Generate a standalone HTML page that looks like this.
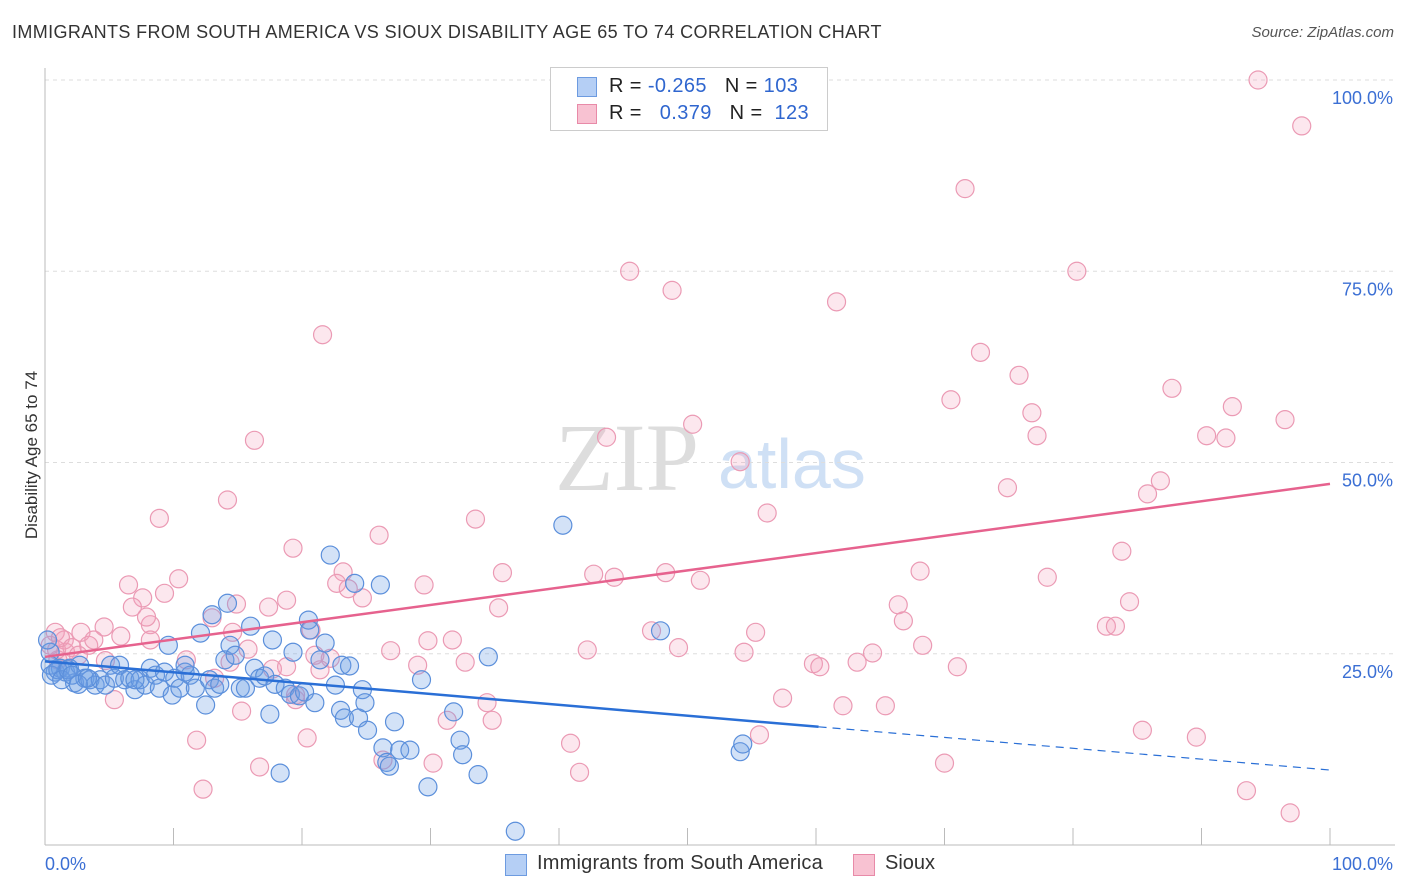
<!DOCTYPE html>
<html><head><meta charset="utf-8">
<style>
body{margin:0;background:#fff;font-family:"Liberation Sans",sans-serif;}
#wrap{position:relative;width:1406px;height:892px;overflow:hidden;}
.t{position:absolute;white-space:nowrap;}
</style></head>
<body>
<div id="wrap">
<div class="t" style="left:12px;top:22px;font-size:18px;letter-spacing:0.38px;color:#333;">IMMIGRANTS FROM SOUTH AMERICA VS SIOUX DISABILITY AGE 65 TO 74 CORRELATION CHART</div>
<div class="t" style="right:12px;top:24px;font-size:15px;color:#555;font-style:italic;">Source: ZipAtlas.com</div>
<div class="t" style="left:-52px;top:445px;font-size:17px;color:#333;transform:rotate(-90deg);">Disability Age 65 to 74</div>
<svg id="plot" width="1406" height="892" style="position:absolute;left:0;top:0"></svg>
<div class="t" style="left:550px;top:67px;width:276px;height:62px;border:1px solid #ccc;background:#fff;">
 <div style="position:absolute;left:26px;top:9px;width:18px;height:18px;background:#b5cff5;border:1px solid #6d9be0;"></div>
 <div class="t" style="left:58px;top:7px;font-size:20px;letter-spacing:0.4px;color:#222;">R = <span style="color:#2f66cf">-0.265</span>&nbsp;&nbsp;&nbsp;N = <span style="color:#2f66cf">103</span></div>
 <div style="position:absolute;left:26px;top:36px;width:18px;height:18px;background:#f8c2d2;border:1px solid #e88aa8;"></div>
 <div class="t" style="left:58px;top:34px;font-size:20px;letter-spacing:0.4px;color:#222;">R = &nbsp;&nbsp;<span style="color:#2f66cf">0.379</span>&nbsp;&nbsp;&nbsp;N = &nbsp;<span style="color:#2f66cf">123</span></div>
</div>
<div style="position:absolute;left:505px;top:854px;width:20px;height:20px;background:#b5cff5;border:1px solid #6d9be0;"></div>
<div class="t" style="left:537px;top:852px;font-size:20px;letter-spacing:0.2px;color:#333;">Immigrants from South America</div>
<div style="position:absolute;left:853px;top:854px;width:20px;height:20px;background:#f8c2d2;border:1px solid #e88aa8;"></div>
<div class="t" style="left:885px;top:852px;font-size:20px;color:#333;">Sioux</div>
</div>
<script>
const yTicks=[25,50,75,100];
const yTickLabels=["25.0%","50.0%","75.0%","100.0%"];
const xEndLabels=["0.0%","100.0%"];
const blueX=[0.4,0.8,1.2,1.6,1.9,2.3,2.7,3.1,3.5,3.9,4.3,4.7,5.1,5.4,5.8,6.2,6.6,7.0,7.4,7.8,8.2,8.6,8.9,9.3,9.6,9.9,10.1,10.5,10.9,11.3,11.7,12.1,12.5,12.8,13.0,13.2,13.6,14.0,14.2,14.4,14.8,15.2,15.6,16.0,16.3,16.7,17.1,17.5,17.7,17.9,18.3,18.7,19.1,19.3,19.8,20.2,20.5,20.6,21.0,21.4,21.8,22.2,22.6,23.0,23.1,23.3,23.7,24.1,24.4,24.7,24.9,25.1,26.1,26.3,26.6,26.8,27.2,27.6,28.4,29.3,29.8,31.8,32.3,32.5,33.7,34.5,36.6,40.3,47.9,54.1,54.3,0.4,0.2,0.5,1.0,1.3,1.8,2.1,2.6,3.3,7.0,10.9];
const blueY=[25.2,22.6,23.1,22.6,23.1,21.2,23.5,21.8,21.6,20.9,21.6,20.9,23.5,21.8,23.5,21.6,21.8,20.3,21.6,20.9,23.1,22.2,20.5,22.6,26.1,19.6,21.8,20.5,22.6,22.2,20.5,27.7,18.3,21.6,30.1,20.5,21.0,24.2,31.6,26.1,24.8,20.5,20.5,28.6,23.1,21.8,22.1,17.1,26.8,21.0,9.4,20.5,19.7,25.2,19.5,20.0,29.4,28.1,18.6,24.2,26.4,37.9,20.9,17.6,23.5,16.6,23.4,34.2,16.6,20.3,18.6,15.0,34.0,12.7,10.8,10.3,16.1,12.4,12.4,21.6,7.6,17.4,13.7,11.8,9.2,24.6,1.8,41.8,28.0,12.2,13.2,23.5,26.8,22.2,22.9,21.6,22.9,22.2,21.0,21.8,21.6,23.5];
const pinkX=[94.4,97.8,71.6,45.5,80.3,48.8,61.6,21.6,72.8,75.8,87.7,70.5,76.8,92.4,96.5,50.4,43.7,77.2,90.4,91.9,16.3,54.1,74.9,86.8,85.8,14.2,8.9,56.2,33.5,26.0,83.8,19.3,23.2,35.6,42.7,44.3,48.3,6.5,10.4,23.6,29.5,51.0,68.1,78.0,9.3,7.6,22.7,24.7,18.8,6.8,14.9,17.4,13.0,66.4,84.4,35.3,8.2,7.9,20.7,2.8,4.6,5.9,0.8,1.5,3.4,3.8,14.6,55.3,66.8,47.2,31.7,29.8,26.9,42.2,49.3,54.4,68.3,64.4,82.6,83.3,1.0,1.6,4.7,11.0,15.8,22.2,59.8,60.3,63.2,71.0,32.7,29.0,0.4,0.9,14.4,17.7,18.8,21.4,13.2,5.4,19.5,57.4,62.1,65.4,34.4,34.8,31.3,15.3,11.8,20.4,40.9,55.6,85.4,89.6,16.7,26.3,30.2,41.6,70.0,12.3,93.5,96.9,1.2,2.1,8.2,2.6,19.5,21.0];
const pinkY=[100,94.0,85.8,75.0,75.0,72.5,71.0,66.7,64.4,61.4,59.7,58.2,56.5,57.3,55.6,55.0,53.3,53.5,53.5,53.2,52.9,50.1,46.7,47.6,45.9,45.1,42.7,43.4,42.6,40.5,38.4,38.8,35.7,35.6,35.4,35.0,35.6,34.0,34.8,33.5,34.0,34.6,35.8,35.0,32.9,32.3,34.2,32.3,32.0,31.1,31.5,31.1,29.7,31.4,31.8,31.0,28.8,29.8,28.1,27.8,28.5,27.3,27.8,26.8,26.1,26.8,27.8,27.8,29.3,28.0,26.8,26.7,25.4,25.5,25.8,25.2,26.1,25.1,28.6,28.6,24.2,25.2,24.1,24.2,25.6,24.4,23.7,23.3,23.9,23.3,23.9,23.5,26.1,25.5,23.9,23.0,23.3,22.9,21.8,19.0,19.0,19.2,18.2,18.2,18.6,16.3,16.3,17.5,13.7,14.0,13.3,14.4,15.0,14.1,10.2,11.1,10.7,9.5,10.7,7.3,7.1,4.2,27.1,25.8,26.8,24.8,19.6,24.8];
const blueTrend=[24.0,9.8]; const blueSolidEnd=60.2;
const pinkTrend=[24.6,47.2];

const NS="http://www.w3.org/2000/svg";
const svg=document.getElementById('plot');
const X=v=>45+v*12.85, Y=v=>845-v*7.65;
function mk(tag,a){const e=document.createElementNS(NS,tag);for(const k in a)e.setAttribute(k,a[k]);svg.appendChild(e);return e;}
let w=mk('text',{x:555,y:490,'font-size':96,'font-family':'Liberation Serif,serif',fill:'#ddd'});w.textContent='ZIP';


let w2=mk('text',{x:718,y:488,'font-size':70,'font-family':'Liberation Sans,sans-serif',fill:'#cfe0f5'});w2.textContent='atlas';


yTicks.forEach((t,i)=>{
 const g=mk('line',{x1:45,x2:1395,y1:Y(t),y2:Y(t),stroke:'#ddd','stroke-dasharray':'4,4'});
 
 
 const l=mk('text',{x:1393,y:Y(t)+24,'text-anchor':'end','font-size':18,fill:'#3b6fd4','font-family':'Liberation Sans,sans-serif'});
 l.textContent=yTickLabels[i];
 
 
});
let ax=mk('line',{x1:45,x2:1395,y1:845,y2:845,stroke:'#bbb'});


let ay=mk('line',{x1:45,x2:45,y1:68,y2:845,stroke:'#bbb'});


for(let i=0;i<=10;i++){const t=mk('line',{x1:X(i*10),x2:X(i*10),y1:828,y2:845,stroke:'#bbb'});
 
 }
[[0,'start',45],[100,'end',1393]].forEach((d,i)=>{const t=mk('text',{x:d[2],y:870,'text-anchor':d[1],'font-size':18,fill:'#3b6fd4','font-family':'Liberation Sans,sans-serif'});t.textContent=xEndLabels[i];
 
 });
pinkX.forEach((x,i)=>{const c=mk('circle',{cx:X(x),cy:Y(pinkY[i]),r:9,fill:'rgba(244,160,188,0.25)',stroke:'#eb9ab4','stroke-width':1.2});
 
 });
blueX.forEach((x,i)=>{const c=mk('circle',{cx:X(x),cy:Y(blueY[i]),r:9,fill:'rgba(110,160,230,0.3)',stroke:'#5b8fdb','stroke-width':1.2});
 
 });
const by=v=>blueTrend[0]+(blueTrend[1]-blueTrend[0])*v/100;
let bl=mk('line',{x1:X(0),y1:Y(by(0)),x2:X(blueSolidEnd),y2:Y(by(blueSolidEnd)),stroke:'#2a6fd6','stroke-width':2.5});


let bd=mk('line',{x1:X(blueSolidEnd),y1:Y(by(blueSolidEnd)),x2:X(100),y2:Y(by(100)),stroke:'#2a6fd6','stroke-width':1.2,'stroke-dasharray':'8,6'});


let pl=mk('line',{x1:X(0),y1:Y(pinkTrend[0]),x2:X(100),y2:Y(pinkTrend[1]),stroke:'#e6628e','stroke-width':2.5});


</script>
</body></html>
